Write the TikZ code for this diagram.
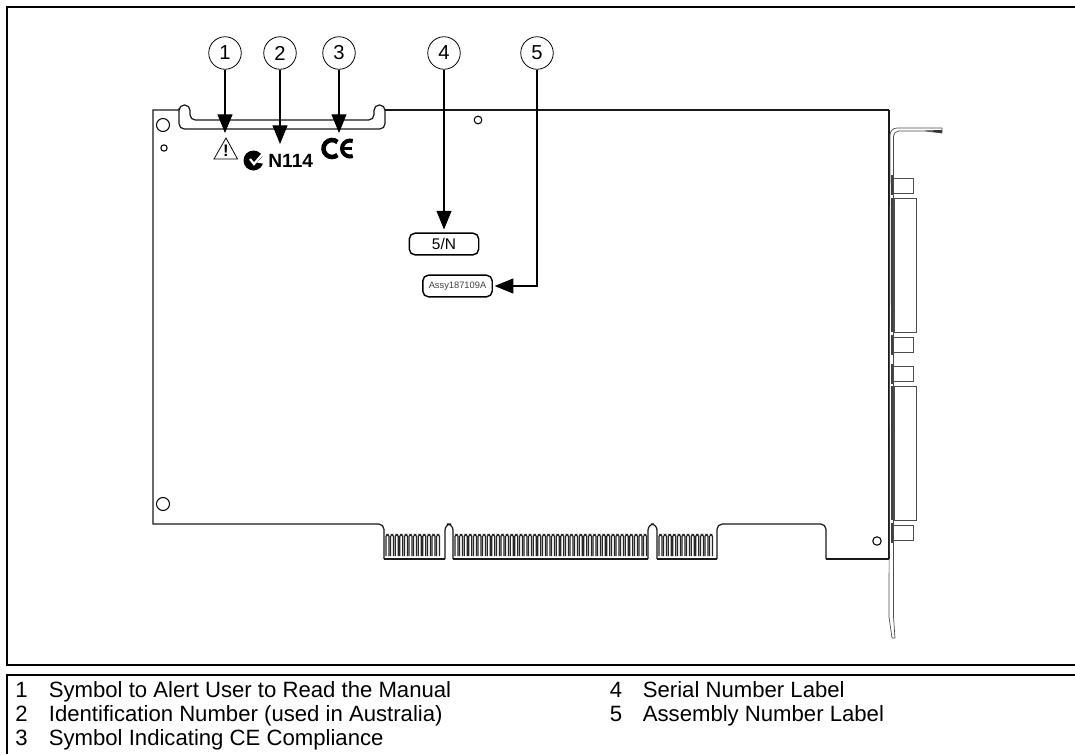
\documentclass[tikz,border=0pt]{standalone}
\usepackage{fontspec}
\setmainfont{Liberation Sans}
\usetikzlibrary{arrows.meta,positioning}
\tikzset{
	callnum/.style={draw, circle, minimum size=18.5pt, inner sep=0pt, line width=0.45pt, font=\fontsize{11.5}{13}\selectfont},
	callout/.style={line width=0.6pt, -{Triangle[length=10.6pt,width=8.5pt]}},
	board/.style={line width=0.7pt, draw=black!90},
	bracket/.style={line width=0.4pt, draw=black!70},
	hole/.style={draw, circle, inner sep=0pt, line width=0.6pt},
	lblbox/.style={draw, rounded corners=3.2pt, inner sep=0pt, line width=0.8pt},
	legendnum/.style={anchor=base west, inner sep=0pt, font=\fontsize{12.6}{14}\selectfont},
	frameline/.style={line width=1.2pt},
	finger/.style={line width=0.7pt, draw=black!85}
}
\begin{document}
\begin{tikzpicture}[x=0.02cm, y=-0.02cm]
	\useasboundingbox (0,0) rectangle (1075,754);

	% outer frames
	\draw[frameline] (1075,7) -- (7,7) -- (7,665) -- (1075,665);
	\draw[frameline] (1075,675) -- (7,675) -- (7,754);

	% board outline
	\draw[board] (179,110) -- (153,110) -- (153,524) [rounded corners=3pt] -- (384,524) -- (384,559);
	\draw[board, rounded corners=3pt] (179,110) -- (179,105) -- (190,105) -- (190,120) -- (374,120) -- (374,105) -- (385,105) -- (385,129) -- (179,129) -- (179,108);
	\draw[board] (385,110) -- (889,110);
	\draw[board, line width=1pt] (889,110) -- (889,559);
	\draw[board] (889,559) -- (826,559);
	\draw[board, rounded corners=3pt] (826,559) -- (826,524) -- (717,524) -- (717,559);
	\draw[board] (384,559) -- (445,559);
	\draw[board] (453,559) -- (648,559);
	\draw[board] (657,559) -- (717,559);
	\draw[board, rounded corners=3.5pt] (445,559) -- (445,524) -- (453,524) -- (453,559);
	\draw[board, rounded corners=3.5pt] (648,559) -- (648,524) -- (657,524) -- (657,559);

	% edge connector fingers
	\foreach \fx in {386,390.6,...,441}
		\draw[finger, rounded corners=1pt] (\fx,556) -- (\fx,534.5) -- (\fx+3,534.5) -- (\fx+3,556);
	\foreach \fx in {455,459.6,...,644}
		\draw[finger, rounded corners=1pt] (\fx,556) -- (\fx,534.5) -- (\fx+3,534.5) -- (\fx+3,556);
	\foreach \fx in {659,663.6,...,714}
		\draw[finger, rounded corners=1pt] (\fx,556) -- (\fx,534.5) -- (\fx+3,534.5) -- (\fx+3,556);

	% holes
	\node[hole, minimum size=7.4pt] (H1) at (163,125) {};
	\node[hole, minimum size=3.6pt] (H2) at (164,148) {};
	\node[hole, minimum size=4.4pt] (H3) at (478,120) {};
	\node[hole, minimum size=4.8pt] (H4) at (877,541) {};
	\node[hole, minimum size=7.4pt] (H5) at (163,504) {};

	% mounting bracket
	\draw[bracket, rounded corners=4pt] (889,617) -- (890,128) -- (942,128);
	\draw[bracket] (889,617) -- (892,638) -- (895,638) -- (893.5,617);
	\draw[bracket, rounded corners=3pt] (893.5,617) -- (893.5,131) -- (925,131);
	\draw[bracket] (925,131) -- (942,133) -- (942,128);
	\fill[black!80] (925,130.5) -- (942,130) -- (941.5,133) -- cycle;
	\draw[line width=0.75pt, draw=black!75] (892,175) -- (892,195);
	\draw[line width=0.75pt, draw=black!75] (892,198) -- (892,332);
	\draw[line width=0.75pt, draw=black!75] (892,335) -- (892,355);
	\draw[line width=0.75pt, draw=black!75] (892,364) -- (892,384);
	\draw[line width=0.75pt, draw=black!75] (892,386) -- (892,520);
	\draw[line width=0.75pt, draw=black!75] (892,523) -- (892,543);

	% D connectors
	\draw[bracket, line width=0.55pt] (893,178) rectangle (913,193);
	\draw[bracket, line width=0.55pt] (894,198) rectangle (916,332);
	\draw[bracket, line width=0.55pt] (893,337) rectangle (913,352);
	\draw[bracket, line width=0.55pt] (893,366) rectangle (913,381);
	\draw[bracket, line width=0.55pt] (894,386) rectangle (916,520);
	\draw[bracket, line width=0.55pt] (893,525) rectangle (913,540);

	% symbols on the board
	\draw[line width=0.45pt, line join=miter] (226,138) -- (237.5,159) -- (214,159) -- cycle;
	\node[inner sep=0pt, font=\bfseries\fontsize{9.5}{10}\selectfont] (Warn) at (226,151) {!};
	\fill (253.5,160.5) circle (10);
	\draw[white, line width=1.3pt] (250,159) -- (254,164) -- (265,151);
	\fill[white] (257,162.5) -- (265,154) -- (265,164) -- cycle;
	\node[inner sep=0pt, font=\bfseries\fontsize{10.9}{12}\selectfont, right=0pt of {(268,160.5)}] (Num) {N114};
	\draw[line width=2.6pt] (337.46,142) arc[start angle=-50, end angle=-310, radius=8.5];
	\draw[line width=2.3pt] (352.74,141) arc[start angle=-70, end angle=-290, radius=8];
	\draw[line width=1.6pt] (343,148.5) -- (352,148.5);

	% labels
	\node[lblbox, minimum width=39.5pt, minimum height=12.3pt, font=\fontsize{8.8}{9}\selectfont] (SN) at (444,244) {5/N};
	\node[lblbox, minimum width=39.5pt, minimum height=12.3pt, text=black!75, font=\fontsize{5.3}{6}\selectfont] (Assy) at (457.5,286) {Assy187109A};

	% callouts
	\node[callnum] (C1) at (225,53) {1};
	\node[callnum] (C2) at (280,53) {2};
	\node[callnum] (C3) at (339,53) {3};
	\node[callnum] (C4) at (444,53) {4};
	\node[callnum] (C5) at (537,53) {5};
	\coordinate (T1) at (225,133);
	\coordinate (T2) at (280,144);
	\coordinate (T3) at (339,133);

	\draw[callout] (C1) -- (T1);
	\draw[callout] (C2) -- (T2);
	\draw[callout] (C3) -- (T3);
	\draw[callout, shorten >=1.7pt] (C4) -- (SN);
	\draw[callout, shorten >=1pt] (C5) |- (Assy);

	% legend
	\node[legendnum] (L1) at (15,697) {1};
	\node[legendnum] (T1L) at (48.5,697) {Symbol to Alert User to Read the Manual};
	\node[legendnum] (L2) at (15,721) {2};
	\node[legendnum] (T2L) at (48.5,721) {Identification Number (used in Australia)};
	\node[legendnum] (L3) at (15,745) {3};
	\node[legendnum] (T3L) at (48.5,745) {Symbol Indicating CE Compliance};
	\node[legendnum] (L4) at (609.5,697) {4};
	\node[legendnum] (T4L) at (642.5,697) {Serial Number Label};
	\node[legendnum] (L5) at (609.5,721) {5};
	\node[legendnum] (T5L) at (642.5,721) {Assembly Number Label};
\end{tikzpicture}
\end{document}
